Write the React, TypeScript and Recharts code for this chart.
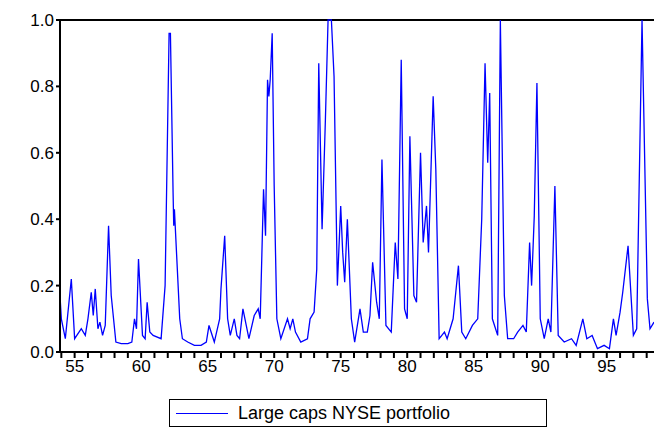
import React from "react";
import { LineChart, Line, XAxis, YAxis, ReferenceLine } from "recharts";

const years = [
  53.9, 54.0, 54.3, 54.75, 55.0, 55.5, 55.8, 56.0, 56.25, 56.4, 56.55, 56.75, 56.9, 57.1, 57.3, 57.55, 57.75, 58.1, 58.5, 59.0, 59.3,
  59.5, 59.65, 59.8, 60.1, 60.3, 60.45, 60.65, 60.9, 61.5, 61.8, 62.1, 62.2, 62.4, 62.45, 62.5, 62.9, 63.1, 63.5, 64.0, 64.5,
  64.9, 65.1, 65.5, 65.9, 66.0, 66.28, 66.5, 66.7, 67.0, 67.2, 67.4, 67.65, 67.9, 68.1, 68.5, 68.8, 68.95, 69.2, 69.35, 69.5,
  69.6, 69.7, 69.85, 70.0, 70.2, 70.5, 71.0, 71.2, 71.4, 71.6, 72.0, 72.5, 72.7, 73.0, 73.2, 73.35, 73.6, 73.85, 74.05, 74.3,
  74.5, 74.75, 75.0, 75.15, 75.3, 75.5, 75.8, 76.05, 76.45, 76.7, 77.0, 77.2, 77.4, 77.7, 77.9, 78.1, 78.4, 78.8, 79.1, 79.3,
  79.55, 79.8, 80.0, 80.2, 80.5, 80.7, 81.0, 81.2, 81.45, 81.6, 81.95, 82.15, 82.4, 82.6, 82.8, 83.0, 83.45, 83.65, 83.85, 84.1,
  84.4, 84.9, 85.3, 85.6, 85.85, 86.05, 86.2, 86.4, 86.8, 87.0, 87.3, 87.55, 88.0, 88.3, 88.7, 88.95, 89.2, 89.35, 89.55, 89.75,
  90.0, 90.3, 90.6, 90.8, 91.1, 91.35, 91.8, 92.35, 92.7, 93.2, 93.5, 93.9, 94.3, 94.8, 95.2, 95.5, 95.7, 96.0, 96.2, 96.6,
  97.0, 97.25, 97.65, 98.05, 98.25, 98.55,
];
const volatility = [
  0.17, 0.1, 0.04, 0.22, 0.04, 0.07, 0.05, 0.1, 0.18, 0.11, 0.19, 0.07, 0.09, 0.05, 0.08, 0.38, 0.17, 0.03, 0.025, 0.025, 0.03,
  0.1, 0.07, 0.28, 0.05, 0.04, 0.15, 0.06, 0.05, 0.04, 0.2, 0.96, 0.96, 0.48, 0.38, 0.43, 0.1, 0.04, 0.03, 0.02, 0.02,
  0.03, 0.08, 0.03, 0.1, 0.19, 0.35, 0.1, 0.05, 0.1, 0.05, 0.04, 0.13, 0.08, 0.04, 0.11, 0.13, 0.1, 0.49, 0.35, 0.82,
  0.77, 0.82, 0.96, 0.5, 0.1, 0.04, 0.1, 0.07, 0.1, 0.06, 0.03, 0.04, 0.1, 0.12, 0.25, 0.87, 0.37, 0.7, 1.0, 1.0,
  0.83, 0.2, 0.44, 0.3, 0.21, 0.4, 0.1, 0.03, 0.13, 0.06, 0.06, 0.11, 0.27, 0.15, 0.1, 0.58, 0.08, 0.06, 0.33, 0.22,
  0.88, 0.13, 0.1, 0.65, 0.17, 0.15, 0.6, 0.33, 0.44, 0.3, 0.77, 0.55, 0.04, 0.05, 0.06, 0.04, 0.1, 0.18, 0.26, 0.06,
  0.04, 0.08, 0.1, 0.4, 0.87, 0.57, 0.78, 0.1, 0.05, 1.0, 0.17, 0.04, 0.04, 0.06, 0.08, 0.06, 0.33, 0.2, 0.41, 0.81,
  0.1, 0.04, 0.1, 0.06, 0.5, 0.05, 0.03, 0.04, 0.02, 0.1, 0.04, 0.05, 0.01, 0.02, 0.01, 0.1, 0.05, 0.12, 0.18, 0.32,
  0.05, 0.07, 1.0, 0.16, 0.07, 0.09,
];
const yTicks = [0, 0.2, 0.4, 0.6, 0.8, 1.0];
const xTicks = [54, 55, 56, 57, 58, 59, 60, 61, 62, 63, 64, 65, 66, 67, 68, 69, 70, 71, 72, 73, 74, 75, 76, 77, 78, 79, 80, 81, 82, 83, 84, 85, 86, 87, 88, 89, 90, 91, 92, 93, 94, 95, 96, 97, 98];

const data = years.map((year, i) => ({ year, value: volatility[i] }));
const xMin = years[0];
const xMax = years[years.length - 1];
const font = "'Liberation Sans', Arial, sans-serif";

export default function App() {
  return (
    <div style={{ position: "fixed", left: 0, top: 0, width: 654, height: 428, fontFamily: font, background: "#fff" }}>
      <LineChart width={654} height={382} data={data} margin={{ top: 20, right: 0, left: 0, bottom: 0 }}>
        <XAxis
          dataKey="year"
          type="number"
          domain={[xMin, xMax]}
          ticks={xTicks}
          tickFormatter={(v) => (v % 5 === 0 ? `${v}` : "")}
          tick={{ fill: "#000", fontSize: 17, fontFamily: font }}
          stroke="#000"
          strokeWidth={2}
          tickSize={6}
          height={30}
          interval={0}
          allowDataOverflow
        />
        <YAxis
          type="number"
          domain={[0, 1]}
          ticks={yTicks}
          tickFormatter={(v) => v.toFixed(1)}
          tick={{ fill: "#000", fontSize: 17, fontFamily: font }}
          stroke="#000"
          strokeWidth={2}
          tickSize={4}
          width={60}
        />
        <ReferenceLine y={1} stroke="#000" strokeWidth={2} />
        <Line type="linear" dataKey="value" stroke="#0000ff" strokeWidth={1.3} dot={false} isAnimationActive={false} />
      </LineChart>
      <div
        style={{
          position: "absolute",
          left: 169,
          top: 399,
          width: 378,
          height: 28,
          border: "1px solid #000",
          boxSizing: "border-box",
          display: "flex",
          alignItems: "center",
          fontSize: 18,
        }}
      >
        <div style={{ width: 52, height: 0, borderTop: "1.5px solid #0000ff", marginLeft: 6, marginRight: 10 }} />
        <span>Large caps NYSE portfolio</span>
      </div>
    </div>
  );
}
